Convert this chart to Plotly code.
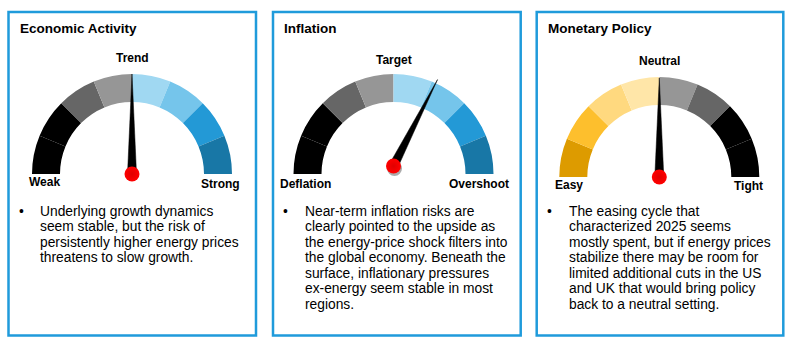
import numpy as np
import plotly.graph_objects as go

# ---------------- data ----------------
titles = ["Economic Activity", "Inflation", "Monetary Policy"]
left_labels = ["Weak", "Deflation", "Easy"]
mid_labels = ["Trend", "Target", "Neutral"]
right_labels = ["Strong", "Overshoot", "Tight"]
segment_widths = [1, 1, 1, 1, 1, 1, 1, 1]          # eight equal gauge bands
colors_activity = ["#000000", "#000000", "#666666", "#969696",
                   "#A0D8F2", "#75C5EB", "#2399D6", "#1877A6"]
colors_inflation = ["#000000", "#000000", "#666666", "#969696",
                    "#A0D8F2", "#75C5EB", "#2399D6", "#1877A6"]
colors_policy = ["#DD9B00", "#FDBF2D", "#FFD97F", "#FFE6A8",
                 "#969696", "#666666", "#000000", "#000000"]
needle_values = [4.0, 5.2, 4.0]                     # position on the 0-8 band scale
bullet_lines = [
    ["Underlying growth dynamics",
     "seem stable, but the risk of",
     "persistently higher energy prices",
     "threatens to slow growth."],
    ["Near-term inflation risks are",
     "clearly pointed to the upside as",
     "the energy-price shock filters into",
     "the global economy. Beneath the",
     "surface, inflationary pressures",
     "ex-energy seem stable in most",
     "regions."],
    ["The easing cycle that",
     "characterized 2025 seems",
     "mostly spent, but if energy prices",
     "stabilize there may be room for",
     "limited additional cuts in the US",
     "and UK that would bring policy",
     "back to a neutral setting."],
]
band_colors = [colors_activity, colors_inflation, colors_policy]

# ---------------- layout constants (pixels) ----------------
W, H = 788, 346
FONT = "Liberation Sans, Arial, sans-serif"
gauge_cx = [132, 393.5, 659.3]
gauge_cy = [174, 174, 177]
RANGE = 110            # radial axis range (px scale 1:1)
R_IN, R_OUT = 72, 100
pivot_off = [0, 8, 0]
needle_len = [100, 97, 99]
needle_half = 4.5
panel_x = [(8.5, 256), (273, 520.7), (536.7, 783.3)]
panel_y = (12, 335.5)
title_x = [18, 281.7, 545.7]
title_y = 28.3
mid_pos = [(132, 58), (394, 60), (659, 61)]
left_pos = [(44, 182), (305, 184), (569, 185)]
right_pos = [(221, 184), (479, 184), (748, 186)]
bullet_x = [21.7, 285.3, 549.3]
text_x = [38, 302.7, 566.7]
line_y0 = 211
line_dy = 15.55


def px(x):
    return x / W


def py(y):
    return 1 - y / H


def to_polar(x, y):
    x = np.asarray(x, float)
    y = np.asarray(y, float)
    return np.hypot(x, y), np.degrees(np.arctan2(y, x))


fig = go.Figure()
nseg = len(segment_widths)
step = 180.0 / sum(segment_widths)

for g in range(3):
    pname = "polar" if g == 0 else f"polar{g+1}"
    sub = "polar" if g == 0 else f"polar{g+1}"
    cx, cy = gauge_cx[g], gauge_cy[g]
    fig.layout[pname] = dict(
        domain=dict(x=[px(cx - RANGE), px(cx + RANGE)], y=[py(cy), py(cy - RANGE)]),
        sector=[0, 180],
        bgcolor="rgba(0,0,0,0)",
        bargap=0,
        radialaxis=dict(visible=False, range=[0, RANGE]),
        angularaxis=dict(visible=False, direction="counterclockwise", rotation=0),
    )
    # bands
    edges = np.cumsum([0] + segment_widths)
    centers = [(edges[i] + edges[i + 1]) / 2 for i in range(nseg)]
    fig.add_trace(go.Barpolar(
        r=[R_OUT - R_IN] * nseg,
        base=[R_IN] * nseg,
        theta=[180 - c * step for c in centers],
        width=[w * step for w in segment_widths],
        marker=dict(color=band_colors[g], line=dict(width=0)),
        subplot=sub, hoverinfo="skip", showlegend=False,
    ))
    # needle
    ang = np.radians(180 - needle_values[g] * step)
    d = np.array([np.cos(ang), np.sin(ang)])
    perp = np.array([-d[1], d[0]])
    piv = np.array([0.0, pivot_off[g]])
    pts = [piv + needle_half * perp, piv + needle_len[g] * d, piv - needle_half * perp]
    pts.append(pts[0])
    xs = [p[0] for p in pts]
    ys = [p[1] for p in pts]
    r, th = to_polar(xs, ys)
    fig.add_trace(go.Scatterpolar(
        r=r, theta=th, mode="lines", fill="toself", fillcolor="#000000",
        line=dict(color="#000000", width=0.5),
        subplot=sub, hoverinfo="skip", showlegend=False,
    ))
    # hub shadow + hub
    rs, ts = to_polar([piv[0] + 1.0], [piv[1] - 2.5])
    fig.add_trace(go.Scatterpolar(
        r=rs, theta=ts, mode="markers", cliponaxis=False,
        marker=dict(size=15, color="rgba(150,150,150,0.8)", line=dict(width=0)),
        subplot=sub, hoverinfo="skip", showlegend=False,
    ))
    rp, tp = to_polar([piv[0]], [piv[1] + 1e-9])
    fig.add_trace(go.Scatterpolar(
        r=rp, theta=tp, mode="markers", cliponaxis=False,
        marker=dict(size=15, color="#FF0000", line=dict(width=0),
                    gradient=dict(type="radial", color="#E00000")),
        subplot=sub, hoverinfo="skip", showlegend=False,
    ))

    # panel border
    fig.add_shape(type="rect", xref="paper", yref="paper",
                  x0=px(panel_x[g][0]), x1=px(panel_x[g][1]),
                  y0=py(panel_y[1]), y1=py(panel_y[0]),
                  line=dict(color="#1F9BDB", width=2.5), fillcolor="rgba(0,0,0,0)")
    # title
    fig.add_annotation(x=px(title_x[g]), y=py(title_y), xref="paper", yref="paper",
                       text=f"<b>{titles[g]}</b>", showarrow=False,
                       xanchor="left", yanchor="middle",
                       font=dict(family=FONT, size=13.5, color="#000000"))
    # gauge labels
    for txt, (lx, ly) in [(mid_labels[g], mid_pos[g]), (left_labels[g], left_pos[g]),
                          (right_labels[g], right_pos[g])]:
        fig.add_annotation(x=px(lx), y=py(ly), xref="paper", yref="paper",
                           text=f"<b>{txt}</b>", showarrow=False,
                           xanchor="center", yanchor="middle",
                           font=dict(family=FONT, size=12, color="#000000"))
    # bullet text
    fig.add_annotation(x=px(bullet_x[g]), y=py(line_y0), xref="paper", yref="paper",
                       text="•", showarrow=False, xanchor="center", yanchor="middle",
                       font=dict(family=FONT, size=13.8, color="#000000"))
    for k, line in enumerate(bullet_lines[g]):
        fig.add_annotation(x=px(text_x[g]), y=py(line_y0 + k * line_dy),
                           xref="paper", yref="paper",
                           text=line, showarrow=False, xanchor="left", yanchor="middle",
                           font=dict(family=FONT, size=13.8, color="#000000"))

fig.update_layout(
    width=W, height=H, autosize=False,
    margin=dict(l=0, r=0, t=0, b=0),
    paper_bgcolor="#FFFFFF", plot_bgcolor="#FFFFFF",
    showlegend=False,
)
fig.write_html("out.html", config={"displayModeBar": False})
